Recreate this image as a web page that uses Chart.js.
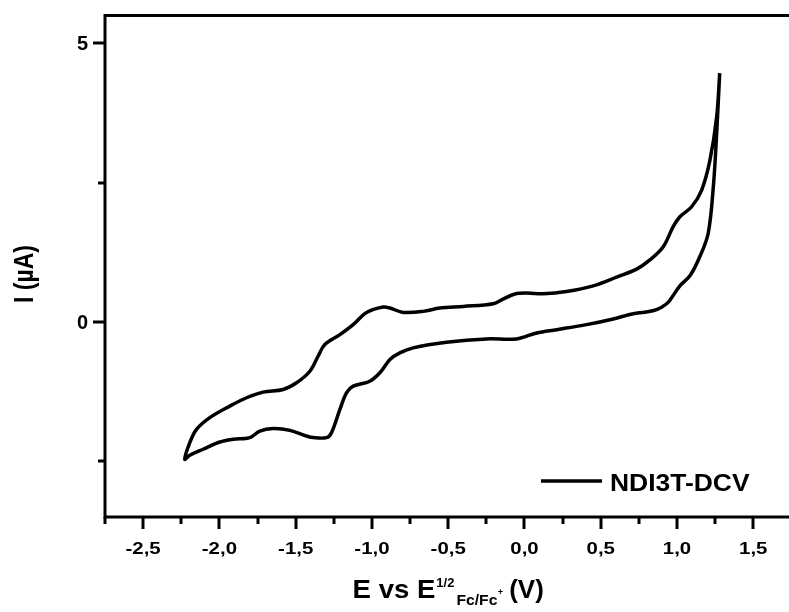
<!DOCTYPE html>
<html>
<head>
<meta charset="utf-8">
<title>NDI3T-DCV cyclic voltammogram</title>
<script src="https://cdn.jsdelivr.net/npm/chart.js@4.4.1/dist/chart.umd.min.js"></script>
<style>
  html, body { margin: 0; padding: 0; background: #fff; overflow: hidden; }
  #wrap { width: 800px; height: 612px; }
</style>
</head>
<body>
<div id="wrap"><canvas id="cv" width="800" height="612"></canvas></div>
<script>
// Cyclic voltammogram of NDI3T-DCV: one closed loop, starting at the anodic
// vertex, sweeping cathodically (lower branch) and returning (upper branch).
const seriesLabel = 'NDI3T-DCV';

// Potential vs E1/2(Fc/Fc+), V
const potentialV = [
  1.28, 1.26, 1.24, 1.205, 1.15, 1.085, 1.019, 0.967, 0.932, 0.866, 0.79, 0.713,
  0.582, 0.407, 0.211, 0.080, -0.052, -0.248, -0.511, -0.730, -0.817, -0.882,
  -0.948, -1.014, -1.123, -1.166, -1.210, -1.265, -1.298, -1.385, -1.429, -1.538,
  -1.648, -1.735, -1.800, -1.910, -1.997, -2.107, -2.194, -2.227,
  -2.194, -2.15, -2.063, -1.932, -1.822, -1.713, -1.582, -1.494, -1.407, -1.353,
  -1.309, -1.210, -1.123, -1.035, -0.926, -0.882, -0.795, -0.664, -0.555, -0.402,
  -0.205, -0.140, -0.063, 0.014, 0.123, 0.276, 0.451, 0.604, 0.735, 0.822,
  0.910, 0.975, 1.019, 1.096, 1.162, 1.216, 1.26, 1.28
];

// Current, µA
const currentUA = [
  4.465, 3.386, 2.492, 1.597, 1.174, 0.828, 0.649, 0.444, 0.327, 0.220, 0.175, 0.148,
  0.054, -0.048, -0.138, -0.197, -0.304, -0.304, -0.365, -0.465, -0.555, -0.674,
  -0.912, -1.063, -1.152, -1.270, -1.569, -1.986, -2.075, -2.075, -2.046, -1.945,
  -1.914, -1.957, -2.075, -2.106, -2.154, -2.284, -2.392, -2.463,
  -2.165, -1.927, -1.717, -1.510, -1.360, -1.259, -1.211, -1.091, -0.884, -0.615,
  -0.406, -0.227, -0.048, 0.172, 0.268, 0.250, 0.172, 0.190, 0.250, 0.279,
  0.327, 0.411, 0.501, 0.519, 0.506, 0.547, 0.649, 0.805, 0.948, 1.114,
  1.352, 1.710, 1.889, 2.068, 2.367, 2.903, 3.678, 4.465
];

// Axis ticks
const xMajorTicks = [-2.5, -2.0, -1.5, -1.0, -0.5, 0.0, 0.5, 1.0, 1.5];
const xTickLabels = ['-2,5', '-2,0', '-1,5', '-1,0', '-0,5', '0,0', '0,5', '1,0', '1,5'];
const xMinorTicks = [-2.75, -2.25, -1.75, -1.25, -0.75, -0.25, 0.25, 0.75, 1.25];
const yMajorTicks = [0, 5];
const yTickLabels = ['0', '5'];
const yMinorTicks = [-2.5, 2.5];

const points = potentialV.map((v, i) => ({ x: v, y: currentUA[i] }));

const FONT = '"Liberation Sans", Arial, Helvetica, sans-serif';

// Text drawn with a horizontal scale factor (wide bold lettering)
function wideText(ctx, text, x, y, size, sx, align) {
  ctx.save();
  ctx.font = 'bold ' + size + 'px ' + FONT;
  const w = ctx.measureText(text).width * sx;
  let x0 = x;
  if (align === 'center') x0 = x - w / 2;
  else if (align === 'right') x0 = x - w;
  ctx.translate(x0, y);
  ctx.scale(sx, 1);
  ctx.textAlign = 'left';
  ctx.textBaseline = 'alphabetic';
  ctx.fillStyle = '#000';
  ctx.fillText(text, 0, 0);
  ctx.restore();
  return w;
}
function textWidth(ctx, text, size, sx) {
  ctx.save();
  ctx.font = 'bold ' + size + 'px ' + FONT;
  const w = ctx.measureText(text).width * sx;
  ctx.restore();
  return w;
}

const frame = {
  id: 'frame',
  afterDraw(chart) {
    const ctx = chart.ctx;
    const a = chart.chartArea;
    const xs = chart.scales.x, ys = chart.scales.y;
    ctx.save();
    ctx.strokeStyle = '#000';
    ctx.lineCap = 'butt';

    // Axis lines: left, bottom, top
    ctx.lineWidth = 3;
    ctx.beginPath();
    ctx.moveTo(a.left, a.top - 1.5); ctx.lineTo(a.left, a.bottom + 1.5);
    ctx.moveTo(a.left - 1.5, a.bottom); ctx.lineTo(chart.width, a.bottom);
    ctx.moveTo(a.left - 1.5, a.top); ctx.lineTo(chart.width, a.top);
    ctx.stroke();

    // X ticks (outward)
    ctx.lineWidth = 3;
    ctx.beginPath();
    xMajorTicks.forEach(v => {
      const px = Math.round(xs.getPixelForValue(v));
      ctx.moveTo(px, a.bottom); ctx.lineTo(px, a.bottom + 12);
    });
    xMinorTicks.forEach(v => {
      const px = Math.round(xs.getPixelForValue(v));
      ctx.moveTo(px, a.bottom); ctx.lineTo(px, a.bottom + 7);
    });
    // Y ticks (outward)
    yMajorTicks.forEach(v => {
      const py = Math.round(ys.getPixelForValue(v));
      ctx.moveTo(a.left, py); ctx.lineTo(a.left - 12, py);
    });
    yMinorTicks.forEach(v => {
      const py = Math.round(ys.getPixelForValue(v));
      ctx.moveTo(a.left, py); ctx.lineTo(a.left - 7, py);
    });
    ctx.stroke();

    // X tick labels
    xMajorTicks.forEach((v, i) => {
      wideText(ctx, xTickLabels[i], xs.getPixelForValue(v), a.bottom + 37, 17, 1.2, 'center');
    });
    // Y tick labels
    yMajorTicks.forEach((v, i) => {
      wideText(ctx, yTickLabels[i], a.left - 17, ys.getPixelForValue(v) + 7, 20, 1.0, 'right');
    });

    // X title: E vs E^{1/2}_{Fc/Fc+} (V)
    const tBase = 598;
    const parts = [
      { t: 'E vs E', size: 26, sx: 1.06, dy: 0, gap: 1 },
      { t: '1/2', size: 13, sx: 1.0, dy: -11, gap: 2 },
      { t: 'Fc/Fc', size: 14, sx: 1.12, dy: 7, gap: 0.5 },
      { t: '+', size: 9, sx: 1.0, dy: -3, gap: 6 },
      { t: '(V)', size: 26, sx: 1.0, dy: 0, gap: 0 }
    ];
    let total = 0;
    parts.forEach(p => { total += textWidth(ctx, p.t, p.size, p.sx) + p.gap; });
    let cx = (a.left + a.right) / 2 - total / 2;
    parts.forEach(p => {
      const w = wideText(ctx, p.t, cx, tBase + p.dy, p.size, p.sx, 'left');
      cx += w + p.gap;
    });

    // Y title (rotated)
    ctx.save();
    ctx.translate(33, 274);
    ctx.rotate(-Math.PI / 2);
    ctx.scale(1, 1.2);
    ctx.font = 'bold 23px ' + FONT;
    ctx.textAlign = 'center';
    ctx.textBaseline = 'alphabetic';
    ctx.fillStyle = '#000';
    ctx.fillText('I (\u00B5A)', 0, 0);
    ctx.restore();

    // Legend
    const ds = chart.data.datasets[0];
    ctx.strokeStyle = ds.borderColor;
    ctx.lineWidth = 3.5;
    ctx.beginPath();
    ctx.moveTo(541, 481); ctx.lineTo(602, 481);
    ctx.stroke();
    wideText(ctx, ds.label, 610, 491, 23, 1.15, 'left');

    ctx.restore();
  }
};

new Chart(document.getElementById('cv'), {
  type: 'scatter',
  data: {
    datasets: [{
      label: seriesLabel,
      data: points,
      showLine: true,
      borderColor: '#000',
      borderWidth: 3.5,
      pointRadius: 0,
      tension: 0.35,
      fill: false
    }]
  },
  options: {
    responsive: false,
    animation: false,
    devicePixelRatio: 1,
    layout: { padding: { left: 105, top: 15.5, right: 8.6, bottom: 95 } },
    plugins: { legend: { display: false }, tooltip: { enabled: false } },
    scales: {
      x: { type: 'linear', min: -2.75, max: 1.75, display: false },
      y: { type: 'linear', min: -3.5, max: 5.5, display: false }
    }
  },
  plugins: [frame]
});
</script>
</body>
</html>
